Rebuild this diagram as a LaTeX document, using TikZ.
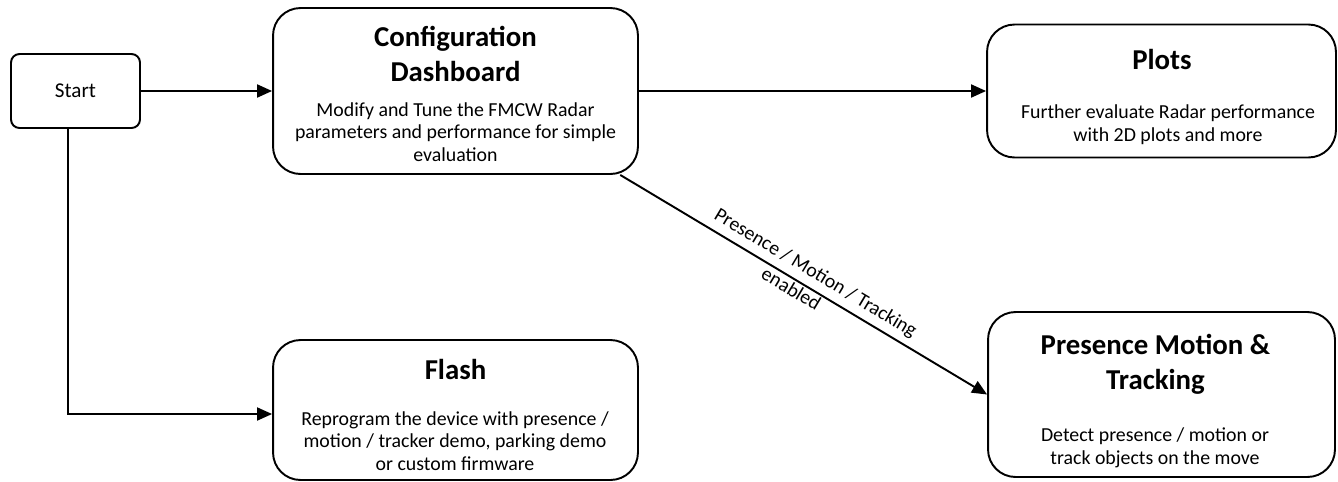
\documentclass[tikz,border=0pt]{standalone}
\usepackage{fontspec}
\setmainfont{Carlito}
\usetikzlibrary{%
arrows.meta,
calc,
positioning
}

\tikzset{
  box/.style={draw, line width=1.1pt, rounded corners=0.55cm},
  headtext/.style={font=\fontsize{16.4}{20}\selectfont\bfseries, align=center},
  bodytext/.style={font=\fontsize{11.3}{12.9}\selectfont, align=center},
  flow/.style={line width=1.1pt, -{Triangle[length=0.3cm,width=0.26cm]}}
}

\begin{document}
\begin{tikzpicture}[x=0.02cm,y=-0.02cm]
\useasboundingbox (0,0) rectangle (1338,481);
    % the boxes
    \node[box, rounded corners=0.17cm, minimum width=2.58cm, minimum height=1.48cm,
          font=\fontsize{12}{14}\selectfont] (start) at (75.5,91) {Start};
    \node[box, minimum width=7.3cm, minimum height=3.32cm] (config) at (455.5,91) {};
    \node[box, minimum width=6.98cm, minimum height=2.66cm] (plots) at (1161.5,91) {};
    \node[box, minimum width=7.3cm, minimum height=2.8cm] (flash) at (455.5,410) {};
    \node[box, minimum width=6.94cm, minimum height=3.3cm] (presence) at (1161.5,394.5) {};
    % titles and descriptions
    \node[headtext] (configHead) at (455.5,54.3) {Configuration\\Dashboard};
    \node[bodytext] (configBody) at (455.5,132) {Modify and Tune the FMCW Radar\\parameters and performance for simple\\evaluation};
    \node[headtext] (plotsHead) at (1162,59.5) {Plots};
    \node[bodytext] (plotsBody) at (1168,125) {Further evaluate Radar performance\\with 2D plots and more};
    \node[headtext] (flashHead) at (455.5,369.5) {Flash};
    \node[bodytext] (flashBody) at (455,441) {Reprogram the device with presence /\\motion / tracker demo, parking demo\\or custom firmware};
    \node[headtext] (presenceHead) at (1155.5,364.5) {Presence Motion \&\\Tracking};
    \node[bodytext] (presenceBody) at (1155,448) {Detect presence / motion or\\track objects on the move};
    % connectors
    \coordinate (bend) at (68,414);
    \draw[flow] (start) -- (config);
    \draw[flow] (config.east |- plots.west) -- (plots.west);
    \draw[flow] (start.south -| bend) |- (flash.west |- bend);
    \draw[flow] (config.-27) -- (presence.west)
        node[pos=0.51, sloped, above, bodytext] (motionLabel) {Presence / Motion / Tracking}
        node[pos=0.48, sloped, below, inner sep=1pt, bodytext] (enabledLabel) {enabled};
\end{tikzpicture}
\end{document}
